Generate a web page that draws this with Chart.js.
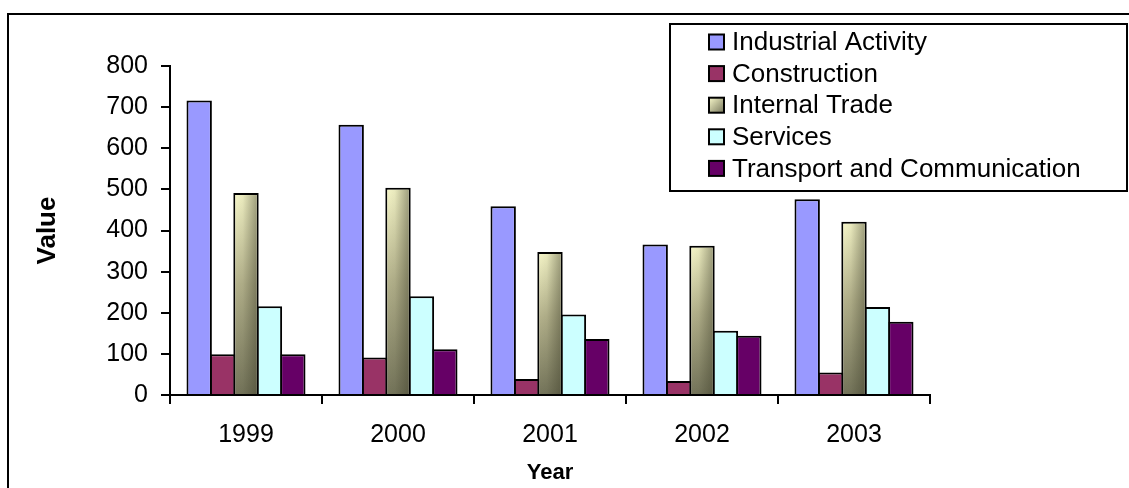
<!DOCTYPE html>
<html>
<head>
<meta charset="utf-8">
<title>Value by Year</title>
<script src="https://cdn.jsdelivr.net/npm/chart.js@4/dist/chart.umd.min.js"></script>
<style>
  html, body { margin: 0; padding: 0; background: #fff; }
  #wrap { width: 1129px; height: 488px; overflow: hidden; }
</style>
</head>
<body>
<div id="wrap"><canvas id="chart" width="1129" height="488"></canvas></div>
<script>
const years = ["1999", "2000", "2001", "2002", "2003"];
const seriesNames = ["Industrial Activity", "Construction", "Internal Trade", "Services", "Transport and Communication"];
const industrial = [716, 657, 459, 366, 476];
const construction = [99, 91, 39, 34, 55];
const internalTrade = [491, 504, 348, 363, 421];
const services = [216, 240, 196, 156, 214];
const transport = [99, 111, 136, 144, 178];
const yTicks = [0, 100, 200, 300, 400, 500, 600, 700, 800];

const FONT = "'Liberation Sans', Arial, sans-serif";
Chart.defaults.font.family = FONT;
Chart.defaults.color = "#000";

// olive bar: light at the top, dark at the axis
function tradeFill(ctx) {
  const chart = ctx.chart;
  if (!chart.chartArea || ctx.type !== "data") return "#a9a782";
  const y = chart.scales.y;
  const top = y.getPixelForValue(ctx.raw);
  const bottom = y.getPixelForValue(0);
  const g = chart.ctx.createLinearGradient(0, top, 0, bottom);
  g.addColorStop(0, "#f6f6c8");
  g.addColorStop(0.45, "#b4b28c");
  g.addColorStop(1, "#74745a");
  return g;
}

// darker right side of the olive bars
const shadePlugin = {
  id: "shade",
  afterDatasetsDraw(chart) {
    const meta = chart.getDatasetMeta(2);
    const c = chart.ctx;
    meta.data.forEach(bar => {
      const p = bar.getProps(["x", "y", "base", "width"], true);
      const l = p.x - p.width / 2 + 2, r = p.x + p.width / 2 - 2;
      const g = c.createLinearGradient(l, 0, r, 0);
      g.addColorStop(0, "rgba(60,60,40,0)");
      g.addColorStop(0.35, "rgba(60,60,40,0.06)");
      g.addColorStop(1, "rgba(60,60,40,0.45)");
      c.save();
      c.fillStyle = g;
      c.fillRect(l, p.y + 2, r - l, p.base - p.y - 2);
      c.restore();
    });
  }
};

const framePlugin = {
  id: "frame",
  afterDraw(chart) {
    const c = chart.ctx;
    c.save();
    c.strokeStyle = "#000";
    c.lineWidth = 2;
    c.strokeRect(8, 14, 1400, 700);

    // legend box
    c.strokeRect(670, 24, 457, 167);
    c.font = "26px " + FONT;
    c.textBaseline = "middle";
    c.textAlign = "left";
    chart.data.datasets.forEach((ds, i) => {
      const y = 42 + i * 31.6;
      let fill = ds.legendColor;
      if (i === 2) {
        const g = c.createLinearGradient(709, y - 7, 724, y + 8);
        g.addColorStop(0, "#f6f6c8");
        g.addColorStop(1, "#74745a");
        fill = g;
      }
      c.fillStyle = fill;
      c.fillRect(709, y - 7.5, 15, 15);
      c.strokeRect(709, y - 7.5, 15, 15);
      c.fillStyle = "#000";
      c.fillText(ds.label, 732, y + 1);
    });
    c.restore();
  }
};

const colors = ["#9999ff", "#993366", tradeFill, "#ccffff", "#660066"];
const legendColors = ["#9999ff", "#993366", "#a9a782", "#ccffff", "#660066"];
const values = [industrial, construction, internalTrade, services, transport];

new Chart(document.getElementById("chart"), {
  type: "bar",
  data: {
    labels: years,
    datasets: values.map((v, i) => ({
      label: seriesNames[i],
      data: v,
      backgroundColor: colors[i],
      legendColor: legendColors[i],
      borderColor: "#000",
      borderWidth: 2,
      categoryPercentage: 0.77,
      barPercentage: 1.085
    }))
  },
  options: {
    responsive: false,
    animation: false,
    devicePixelRatio: 1,
    layout: { padding: { top: 66, right: 199, left: 0, bottom: 0 } },
    plugins: {
      legend: { display: false },
      tooltip: { enabled: false }
    },
    scales: {
      x: {
        afterFit(scale) { scale.height = 93; },
        border: { color: "#000", width: 2 },
        grid: { display: true, drawOnChartArea: false, drawTicks: true, tickLength: 9, color: "#000", lineWidth: 2 },
        ticks: { font: { size: 25 }, padding: 16, color: "#000" },
        title: { display: true, text: "Year", font: { size: 22, weight: "bold" }, padding: { top: 0, bottom: 2 }, color: "#000" }
      },
      y: {
        min: yTicks[0],
        max: yTicks[yTicks.length - 1],
        afterFit(scale) { scale.width = 170; },
        afterBuildTicks(scale) { scale.ticks = yTicks.map(v => ({ value: v })); },
        border: { color: "#000", width: 2 },
        grid: { display: true, drawOnChartArea: false, drawTicks: true, tickLength: 9, color: "#000", lineWidth: 2 },
        ticks: { font: { size: 25 }, padding: 13, color: "#000" },
        title: { display: true, text: "Value", font: { size: 26, weight: "bold" }, padding: { top: 32, bottom: 0 }, color: "#000" }
      }
    }
  },
  plugins: [shadePlugin, framePlugin]
});
</script>
</body>
</html>
